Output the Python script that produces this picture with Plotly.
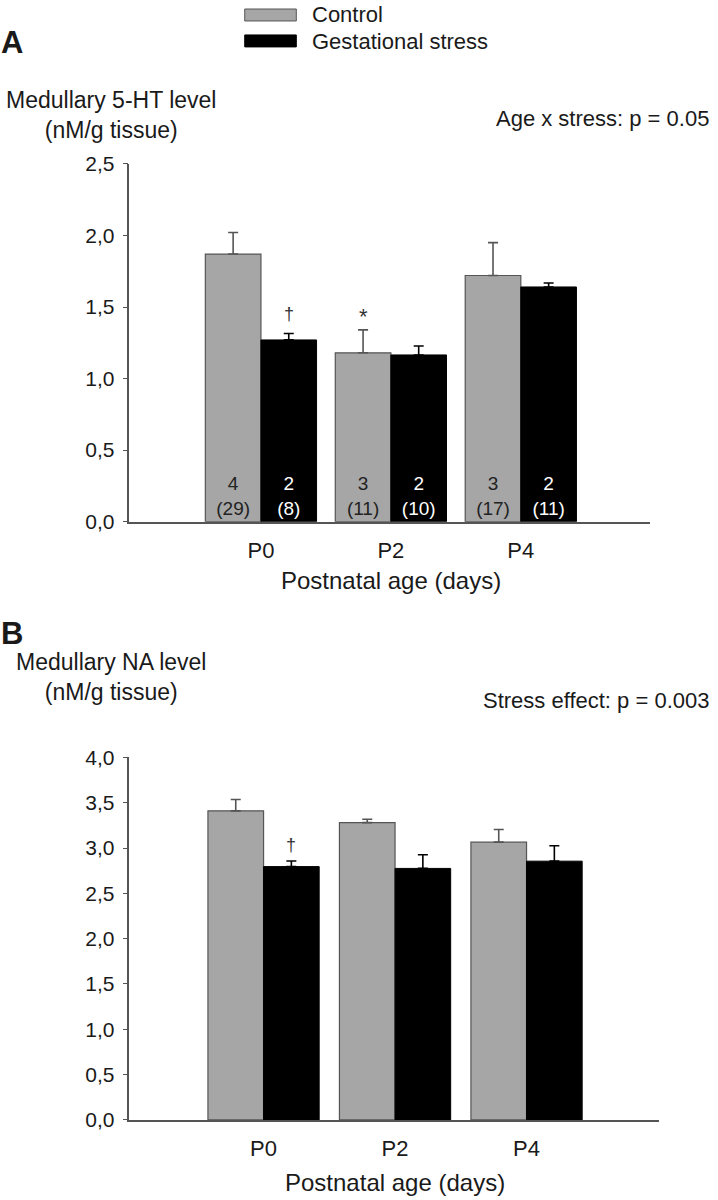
import plotly.graph_objects as go

# ---------------- data ----------------
ages = ["P0", "P2", "P4"]

# Panel A: medullary 5-HT (nM/g tissue)
ht_control = [1.87, 1.18, 1.72]
ht_control_err = [0.15, 0.16, 0.23]
ht_stress = [1.27, 1.165, 1.64]
ht_stress_err = [0.045, 0.063, 0.028]
ht_control_litters = [4, 3, 3]
ht_control_pups = [29, 11, 17]
ht_stress_litters = [2, 2, 2]
ht_stress_pups = [8, 10, 11]

# Panel B: medullary NA (nM/g tissue)
na_control = [3.41, 3.28, 3.065]
na_control_err = [0.125, 0.037, 0.14]
na_stress = [2.795, 2.775, 2.855]
na_stress_err = [0.062, 0.15, 0.17]

ytick_a = [0.0, 0.5, 1.0, 1.5, 2.0, 2.5]
ytick_b = [0.0, 0.5, 1.0, 1.5, 2.0, 2.5, 3.0, 3.5, 4.0]

# ---------------- style ----------------
W, H = 718, 1200
AX, AY = 4, 10   # compensation for the paper inset observed in the rendered page
GRAY = "#a6a6a6"
EDGE = "#555555"
AXC = "#555555"
TXT = "#1a1a1a"
FONT = "Liberation Sans, Arial, sans-serif"

def px(x):
    return (x - AX) / (W - 2 * AX)

def py(y):
    return 1 - (y - AY) / (H - 2 * AY)

xpos = list(range(len(ages)))

fig = go.Figure()

def add_panel(ctrl, ctrl_err, strs, strs_err, bw, xa, ya, ctrl_txt=None, strs_txt=None):
    fig.add_trace(go.Bar(
        x=xpos, y=ctrl, width=bw, offset=-bw, name="Control",
        marker=dict(color=GRAY, line=dict(color=EDGE, width=1.2)),
        error_y=dict(type="data", array=ctrl_err, arrayminus=[0] * len(ctrl),
                     symmetric=False, color=EDGE, thickness=1.6, width=5),
        text=ctrl_txt, textposition="inside" if ctrl_txt else None,
        insidetextanchor="start", textangle=0, constraintext="none",
        textfont=dict(size=19, color="#222222", family=FONT),
        xaxis=xa, yaxis=ya, showlegend=False, cliponaxis=False,
    ))
    fig.add_trace(go.Bar(
        x=xpos, y=strs, width=bw, offset=0, name="Gestational stress",
        marker=dict(color="#000000", line=dict(color="#000000", width=1)),
        error_y=dict(type="data", array=strs_err, arrayminus=[0] * len(strs),
                     symmetric=False, color="#000000", thickness=1.6, width=5),
        text=strs_txt, textposition="inside" if strs_txt else None,
        insidetextanchor="start", textangle=0, constraintext="none",
        textfont=dict(size=19, color="#ffffff", family=FONT),
        xaxis=xa, yaxis=ya, showlegend=False, cliponaxis=False,
    ))

txt_c = [f"{a}<br>({b})" for a, b in zip(ht_control_litters, ht_control_pups)]
txt_s = [f"{a}<br>({b})" for a, b in zip(ht_stress_litters, ht_stress_pups)]

add_panel(ht_control, ht_control_err, ht_stress, ht_stress_err, 0.428, "x", "y", txt_c, txt_s)
add_panel(na_control, na_control_err, na_stress, na_stress_err, 0.423, "x2", "y2")

xaxis_common = dict(
    tickmode="array", tickvals=xpos, ticktext=ages, showline=True, linecolor=AXC,
    linewidth=1.6, ticks="", showgrid=False, zeroline=False,
    tickfont=dict(size=22, color=TXT, family=FONT), ticklabelstandoff=8,
)
yaxis_common = dict(
    showline=True, linecolor=AXC, linewidth=1.6, ticks="outside", ticklen=5,
    tickcolor=AXC, tickwidth=1.4, showgrid=False, zeroline=False, tickformat=".1f",
    tickfont=dict(size=21, color=TXT, family=FONT), ticklabelstandoff=4,
)

fig.update_layout(
    width=W, height=H, margin=dict(l=0, r=0, t=0, b=0),
    paper_bgcolor="white", plot_bgcolor="white", separators=",.",
    barmode="overlay", font=dict(family=FONT, color=TXT),
    xaxis=dict(domain=[px(132), px(647)], range=[-1.012, 2.996], anchor="y", **xaxis_common),
    yaxis=dict(domain=[py(521), py(162.25)], range=[0, 2.5], tickvals=ytick_a, anchor="x", **yaxis_common),
    xaxis2=dict(domain=[px(132), px(656)], range=[-1.02, 3.01], anchor="y2", **xaxis_common),
    yaxis2=dict(domain=[py(1120.7), py(757.3)], range=[0, 4.0], tickvals=ytick_b, anchor="x2", **yaxis_common),
)

ann = []
def text(x, y, s, size=21, xanchor="left", bold=False):
    ann.append(dict(x=px(x), y=py(y), xref="paper", yref="paper", text=(f"<b>{s}</b>" if bold else s),
                    showarrow=False, xanchor=xanchor, yanchor="middle", align="center",
                    font=dict(size=size, color=TXT, family=FONT)))

# panel letters
text(3, 41, "A", size=31, bold=True)
text(3, 633, "B", size=31, bold=True)

# legend
fig.add_shape(type="rect", xref="paper", yref="paper", x0=px(246), x1=px(297), y0=py(19), y1=py(7),
              fillcolor=GRAY, line=dict(color=EDGE, width=1))
fig.add_shape(type="rect", xref="paper", yref="paper", x0=px(246), x1=px(297), y0=py(45), y1=py(33),
              fillcolor="#000000", line=dict(color="#000000", width=1))
text(311, 13, "Control", size=22)
text(311, 40, "Gestational stress", size=22)

# axis titles panel A
text(114, 113, "Medullary 5-HT level<br>(nM/g tissue)", size=23, xanchor="center")
text(707, 117, "Age x stress: p = 0.05", size=22, xanchor="right")
text(391, 580, "Postnatal age (days)", size=24, xanchor="center")

# axis titles panel B
text(114, 677, "Medullary NA level<br>(nM/g tissue)", size=23, xanchor="center")
text(707, 700, "Stress effect: p = 0.003", size=22, xanchor="right")
text(395, 1183, "Postnatal age (days)", size=24, xanchor="center")

# significance markers
MARK = "#333333"
bwA, bwB = 0.428, 0.423
ann.append(dict(x=0 + bwA / 2, y=ht_stress[0] + ht_stress_err[0], xref="x", yref="y", text="†",
                showarrow=False, yanchor="middle", yshift=19, font=dict(size=18, color=MARK, family=FONT)))
ann.append(dict(x=1 - bwA / 2, y=ht_control[1] + ht_control_err[1], xref="x", yref="y", text="*",
                showarrow=False, yanchor="middle", yshift=13, font=dict(size=22, color=MARK, family=FONT)))
ann.append(dict(x=0 + bwB / 2, y=na_stress[0] + na_stress_err[0], xref="x2", yref="y2", text="†",
                showarrow=False, yanchor="middle", yshift=16, font=dict(size=18, color=MARK, family=FONT)))

fig.update_layout(annotations=ann)
fig.write_html(
    "out.html",
    config={"displayModeBar": False},
    post_script=("document.body.style.margin='0';document.body.style.padding='0';"
                 "document.documentElement.style.overflow='hidden';document.body.style.overflow='hidden';"),
)
